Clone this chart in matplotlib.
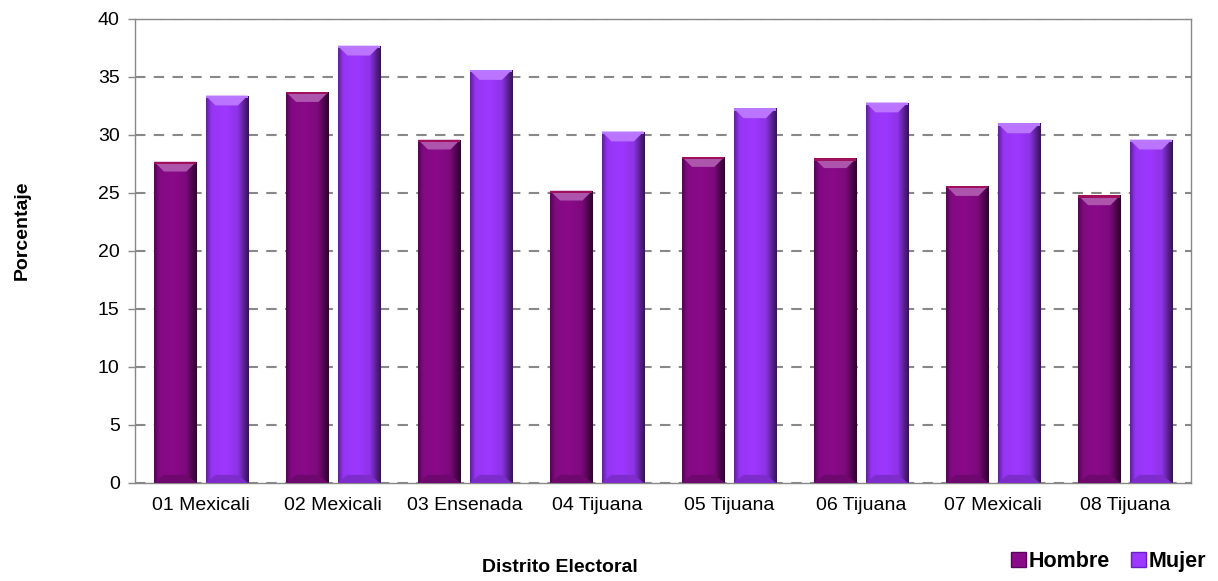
import numpy as np
import matplotlib
matplotlib.use("Agg")
import matplotlib.pyplot as plt
from matplotlib.colors import LinearSegmentedColormap, to_rgb
from matplotlib.patches import Polygon, Patch

plt.rcParams['font.family'] = ['Liberation Sans', 'DejaVu Sans']

### Data ######################################################################
distritos = ["01 Mexicali", "02 Mexicali", "03 Ensenada", "04 Tijuana",
             "05 Tijuana", "06 Tijuana", "07 Mexicali", "08 Tijuana"]
hombre = [27.7, 33.7, 29.6, 25.2, 28.1, 28.0, 25.6, 24.8]
mujer  = [33.4, 37.7, 35.6, 30.3, 32.3, 32.8, 31.0, 29.6]

c_hombre = "#8a0a8a"
c_mujer  = "#9d38ff"

def shade(c, f):
    r, g, b = to_rgb(c)
    if f < 1:
        return (r*f, g*f, b*f)
    f = f - 1
    return (r + (1-r)*f, g + (1-g)*f, b + (1-b)*f)

def bevel_bars(ax, bars, color, top_col):
    cmap = LinearSegmentedColormap.from_list("b", [
        (0.0, shade(color, 0.6)), (0.12, shade(color, 0.95)),
        (0.45, shade(color, 1.0)), (0.75, shade(color, 0.9)),
        (0.9, shade(color, 0.55)), (1.0, shade(color, 0.35))])
    grad = np.linspace(0, 1, 64).reshape(1, -1)
    for r in bars:
        x0, y0 = r.get_x(), r.get_y()
        w, h = r.get_width(), r.get_height()
        r.set_facecolor("none")
        im = ax.imshow(grad, cmap=cmap, aspect="auto", extent=(x0, x0+w, y0, y0+h),
                       zorder=2, interpolation="bilinear")
        im.set_clip_path(r)
        d = 0.85
        ins = 0.075
        ax.add_patch(Polygon([(x0, y0+h), (x0+w, y0+h), (x0+w-ins, y0+h-d), (x0+ins, y0+h-d)],
                             closed=True, facecolor=shade(color, 1.3), edgecolor="none", zorder=3))
        ax.add_patch(Polygon([(x0, y0+h), (x0+w, y0+h), (x0+w, y0+h-0.2), (x0, y0+h-0.2)],
                             closed=True, facecolor=top_col, edgecolor="none", zorder=3))
        ax.add_patch(Polygon([(x0, y0), (x0+w, y0), (x0+w-ins, y0+0.7), (x0+ins, y0+0.7)],
                             closed=True, facecolor=shade(color, 0.8), edgecolor="none", zorder=3))

### Plot ######################################################################
fig = plt.figure(figsize=(12.18, 5.81), dpi=100)
ax = fig.add_axes([0.1108, 0.1687, 0.8670, 0.7986])

x = np.arange(len(distritos))
bw = 0.32
off = 0.195
b1 = ax.bar(x - off, hombre, bw, color=c_hombre, zorder=2)
b2 = ax.bar(x + off, mujer, bw, color=c_mujer, zorder=2)
bevel_bars(ax, b1, c_hombre, "#a0105a")
bevel_bars(ax, b2, c_mujer, "#b878ff")

ax.set_xlim(-0.5, len(distritos) - 0.5)
ax.set_ylim(0, 40)
ax.set_yticks(np.arange(0, 41, 5))
ax.set_xticks(x)
ax.set_xticklabels(distritos)
ax.tick_params(axis="x", length=0, pad=10, labelsize=14)
ax.tick_params(axis="y", length=5, width=1, color="#888888", pad=6, labelsize=14)
ax.yaxis.grid(True, linestyle=(0, (5, 4)), color="#888888", linewidth=1.5, zorder=1)
ax.set_axisbelow(True)
for s in ax.spines.values():
    s.set_color("#888888")
    s.set_linewidth(1)

fig.text(0.018, 0.604, "Porcentaje", rotation=90, ha="center", va="center",
         fontsize=14, fontweight="bold")
fig.text(0.46, 0.024, "Distrito Electoral", ha="center", va="center",
         fontsize=14, fontweight="bold")

handles = [Patch(facecolor=c_hombre, edgecolor="#5a005a"),
           Patch(facecolor=c_mujer, edgecolor="#6a20c0")]
leg = fig.legend(handles, ["Hombre", "Mujer"], loc="lower right",
                 bbox_to_anchor=(1.006, -0.018), ncol=2, frameon=False,
                 handlelength=0.7, handleheight=0.7, handletextpad=0.1,
                 columnspacing=1.0, prop={"size": 15.5, "weight": "bold"})

fig.savefig("out.png", dpi=100)
